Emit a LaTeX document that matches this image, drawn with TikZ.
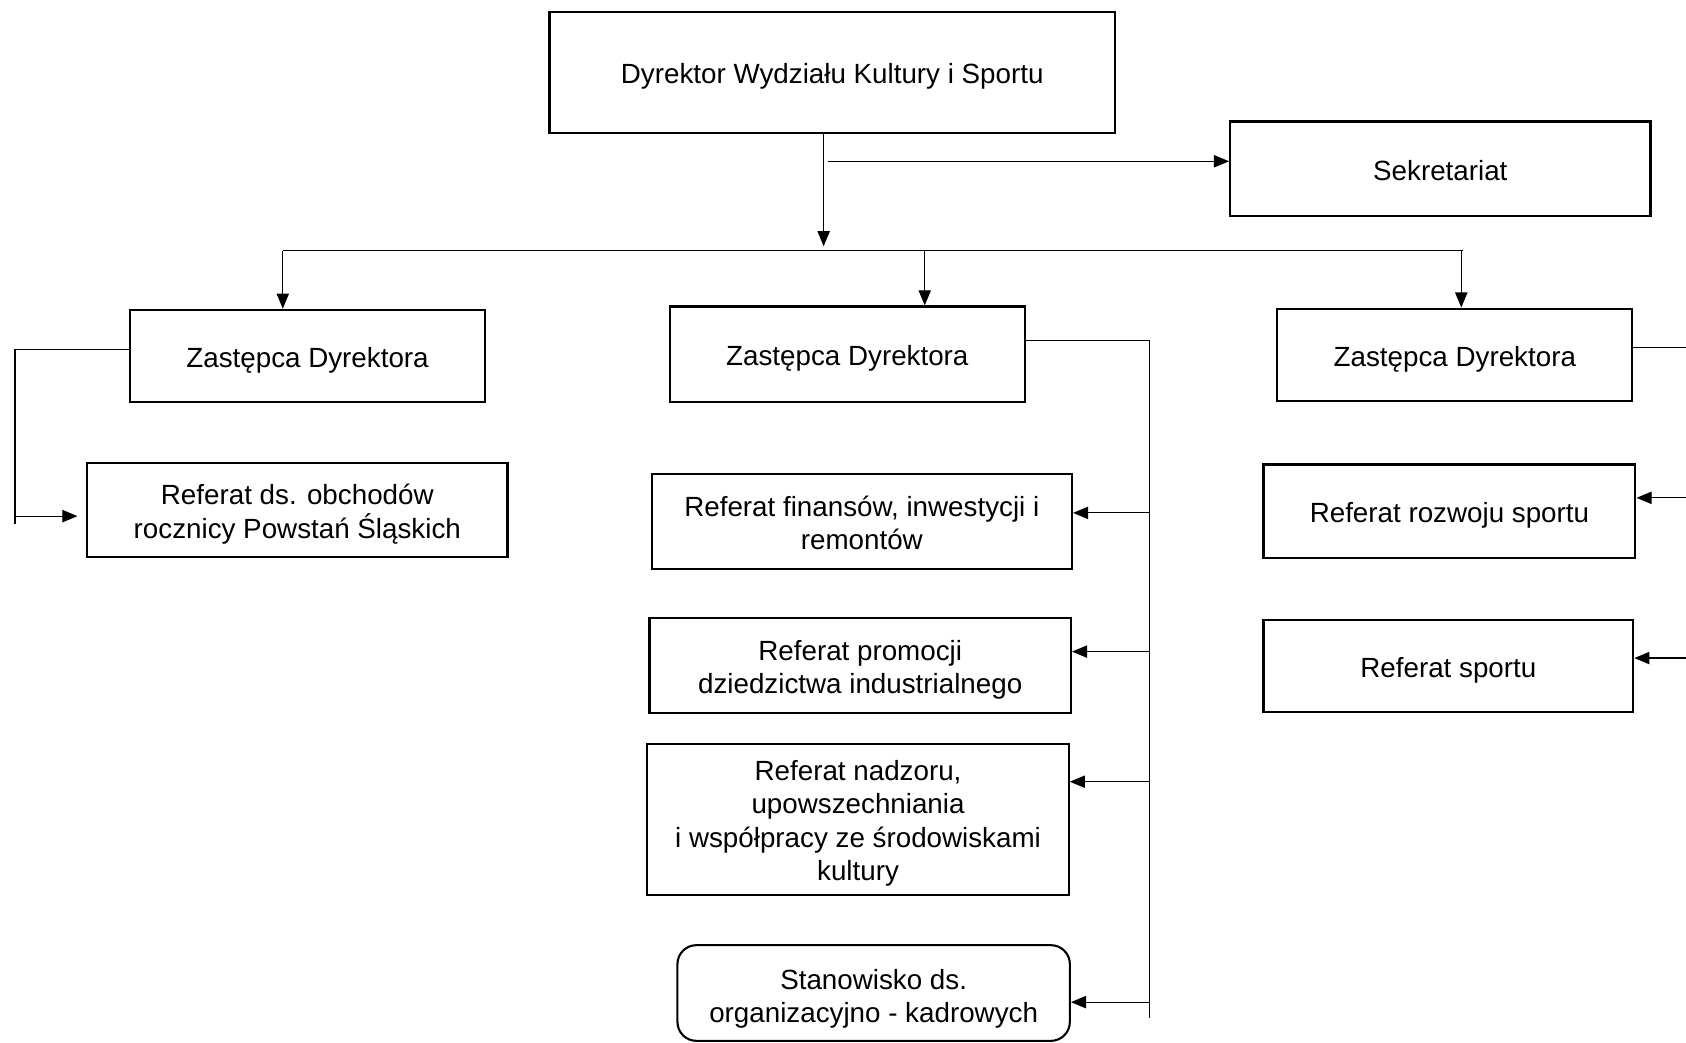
\documentclass[tikz,border=0pt]{standalone}
\usepackage{fontspec}
\setmainfont{Liberation Sans}
\usetikzlibrary{arrows.meta}
\newcommand{\nodestrut}[1][15pt]{\rule{0pt}{#1}}

\begin{document}
\begin{tikzpicture}[x=0.02cm,y=-0.02cm,
    box/.style={draw,line width=1.1pt,inner sep=0pt,align=center,font=\fontsize{14.7}{17.6}\selectfont,
        execute at begin node={\rule{0pt}{15pt}},execute at end node={\rule[-3.1pt]{0pt}{0pt}}},
    arr/.style={-{Triangle[length=8pt,width=6.5pt]},line width=0.6pt},
    link/.style={line width=0.6pt}]
    \useasboundingbox (0,0) rectangle (1568,970);

    \node[box,minimum width=10.52cm,minimum height=2.26cm] (dyr) at (774,67.5) {Dyrektor Wydziału Kultury i Sportu};
    \node[box,minimum width=7.82cm,minimum height=1.76cm] (sek) at (1339.5,157) {Sekretariat};

    \node[box,minimum width=6.6cm,minimum height=1.72cm] (zd1) at (286,331) {Zastępca Dyrektora};
    \node[box,minimum width=6.6cm,minimum height=1.78cm] (zd2) at (788,329.5) {Zastępca Dyrektora};
    \node[box,minimum width=6.6cm,minimum height=1.72cm] (zd3) at (1353,330) {Zastępca Dyrektora};

    \node[box,minimum width=7.82cm,minimum height=1.74cm] (obch) at (276.5,474.5) {\nodestrut Referat ds. obchodów\\rocznicy Powstań Śląskich};

    \node[box,minimum width=7.82cm,minimum height=1.76cm] (fin) at (801.5,485) {\nodestrut Referat finansów, inwestycji i\\remontów};
    \node[box,minimum width=7.84cm,minimum height=1.76cm] (prom) at (800,619) {\nodestrut Referat promocji\\dziedzictwa industrialnego};
    \node[box,minimum width=7.84cm,minimum height=2.8cm] (nadz) at (798,762) {\nodestrut Referat nadzoru,\\upowszechniania\\i współpracy ze środowiskami\\kultury};
    \node[box,rounded corners=10pt,minimum width=7.3cm,minimum height=1.78cm] (stan) at (812.5,923.5) {\nodestrut[16.7pt]Stanowisko ds.\\organizacyjno - kadrowych};

    \node[box,minimum width=6.92cm,minimum height=1.74cm] (rozw) at (1348,475.5) {Referat rozwoju sportu};
    \node[box,minimum width=6.88cm,minimum height=1.7cm] (sport) at (1347,619.5) {Referat sportu};

    % dyrektor -> bus, sekretariat
    \coordinate (bus) at (766,229);
    \draw[arr] (dyr.south -| bus) -- (bus);
    \coordinate (s0) at (770,150);
    \draw[arr] (s0) -- (s0 -| sek.west);

    \coordinate (bl) at (263,233);
    \coordinate (bm) at (860,233);
    \coordinate (br) at (1359,233);
    \draw[link] (bl) -- (1361,233);
    \draw[arr] (bl) -- (bl |- zd1.north);
    \draw[arr] (bm) -- (bm |- zd2.north);
    \draw[arr] (br) -- (br |- zd3.north);

    % lewy zastepca
    \coordinate (lt) at (14,325);
    \coordinate (lb) at (14,487);
    \coordinate (la) at (14,480);
    \draw[link] (zd1.west |- lt) -- (lt) -- (lb);
    \draw[arr,shorten >=1.6mm] (la) -- (la -| obch.west);

    % srodkowy zastepca
    \coordinate (mt) at (1069,317);
    \coordinate (mb) at (1069,947);
    \draw[link] (zd2.east |- mt) -- (mt) -- (mb);
    \foreach \n/\y in {fin/477,prom/606,nadz/727,stan/932}{
        \coordinate (m\n) at (1069,\y);
        \draw[arr] (m\n) -- (m\n -| \n.east);
    }

    % prawy zastepca
    \coordinate (rt) at (1570,323);
    \draw[link] (zd3.east |- rt) -- (rt);
    \foreach \n/\y in {rozw/463,sport/612}{
        \coordinate (r\n) at (1570,\y);
        \draw[arr] (r\n) -- (r\n -| \n.east);
    }
\end{tikzpicture}
\end{document}
